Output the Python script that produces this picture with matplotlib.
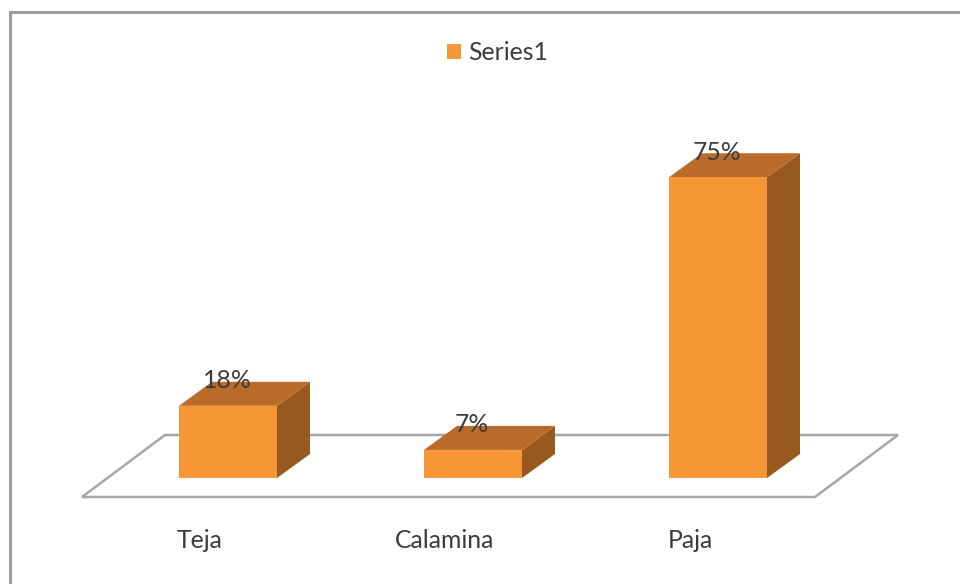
import matplotlib
matplotlib.use("Agg")
import matplotlib.pyplot as plt
from matplotlib.patches import Polygon, Rectangle
from matplotlib.lines import Line2D

plt.rcParams['font.family'] = ['Lato', 'DejaVu Sans']

categories = ["Teja", "Calamina", "Paja"]
values = [18, 7, 75]
labels = ["18%", "7%", "75%"]
series_name = "Series1"

W, H = 960, 584
FRONT = "#F79637"
TOP = "#B96B29"
SIDE = "#98591F"
TEXT = "#3c3c3c"
LINE = "#a6a6a6"
FS = 17.8

px_x = 245.0          # pixels per category
px_y = 4.01           # pixels per percent
x0_px, y0_px = 228, 478

fig = plt.figure(figsize=(W / 100, H / 100), dpi=100)
ax = fig.add_axes([0, 0, 1, 1])
ax.set_xlim(-x0_px / px_x, (W - x0_px) / px_x)
ax.set_ylim((y0_px - H) / px_y, y0_px / px_y)
ax.axis("off")

dx = 33 / px_x        # depth of the bars
dy = 24 / px_y
half = 49 / px_x


def X(p):
    return (p - x0_px) / px_x


def Y(p):
    return (y0_px - p) / px_y


# chart frame (left and top only)
ax.add_line(Line2D([X(10), X(10), X(W)], [Y(H), Y(12), Y(12)], color="#9c9c9c", lw=2.2, solid_joinstyle="miter"))

# floor
ax.add_patch(Polygon([(X(82), Y(497)), (X(815), Y(497)), (X(898), Y(435)), (X(165), Y(435))],
                     closed=True, fc="white", ec=LINE, lw=1.8, joinstyle="miter"))

# 3D bars
for i, (v, lab) in enumerate(zip(values, labels)):
    l, r = i - half, i + half
    ax.add_patch(Polygon([(r, 0), (r + dx, dy), (r + dx, v + dy), (r, v)], closed=True, fc=SIDE, ec="none"))
    ax.add_patch(Polygon([(l, v), (r, v), (r + dx, v + dy), (l + dx, v + dy)], closed=True, fc=TOP, ec="none"))
    ax.add_patch(Rectangle((l, 0), r - l, v, fc=FRONT, ec="none"))
    ax.text(i - 1 / px_x, v + dy + 1 / px_y, lab, ha="center", va="center", fontsize=FS, color=TEXT)

# category labels
for i, c in enumerate(categories):
    ax.text(i - 28 / px_x, Y(541), c, ha="center", va="center", fontsize=FS, color=TEXT)

# legend
ax.add_patch(Rectangle((X(447), Y(59)), 14 / px_x, 15 / px_y, fc=FRONT, ec="none"))
ax.text(X(468), Y(53), series_name, ha="left", va="center", fontsize=FS, color=TEXT)

fig.savefig("out.png", dpi=100)
